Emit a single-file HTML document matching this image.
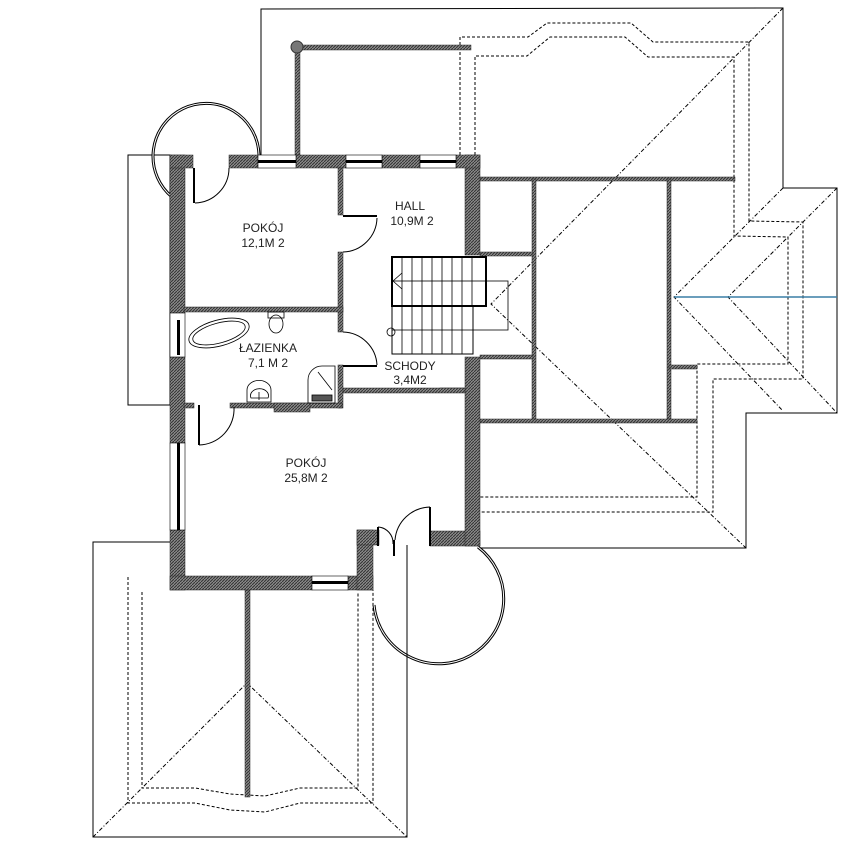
<!DOCTYPE html>
<html><head><meta charset="utf-8"><style>
html,body{margin:0;padding:0;background:#fff}
svg{display:block}
text{font-family:"Liberation Sans",sans-serif;font-size:12px;fill:#222;text-anchor:middle}
</style></head><body>
<svg width="861" height="846" viewBox="0 0 861 846" xmlns="http://www.w3.org/2000/svg">
<defs>
<pattern id="h" width="3" height="3" patternUnits="userSpaceOnUse">
<rect width="3" height="3" fill="#8a8a8a"/><path d="M0,3 L3,0" stroke="#333" stroke-width="1"/>
</pattern>
</defs>
<g fill="none" stroke="#000" stroke-width="1">
<polyline points="261,155 261,9 783,8 783,188 837,188 837,413 746,413 746,548 480,548"/>
<rect x="128" y="155" width="42" height="250"/>
<polyline points="170,542 93,542 93,837 407,837 407,545"/>
<g stroke-dasharray="3,2">
<polyline points="460,155 460,37 528,37 547,23 631,23 653,42 749,42 749,221 803,222 803,379 713,379 713,512 480,512"/>
<polyline points="475,155 475,56 527,56 550,37 625,37 648,57 734,57 734,236 788,237 788,364 697,364 697,497 480,497"/>
<polyline points="128,577 128,803 195,803 230,810 265,812 300,803 373,803 373,590"/>
<polyline points="142,592 142,788 195,788 230,794 265,796 300,788 358,788 358,592"/>
</g>
<g stroke-dasharray="4,2,1,2">
<polyline points="783,8 491,304 746,548"/>
<polyline points="783,188 674,297 783,411"/>
<polyline points="837,188 728,297 837,413"/>
<polyline points="93,837 247,683 407,837"/>
</g>
<line x1="674" y1="297" x2="837" y2="297" stroke="#3a7fa6" stroke-width="1.5"/>
<path d="M172,197 A53,53 0 1 1 259,155" stroke-width="3"/>
<path d="M172,197 A53,53 0 1 1 259,155" stroke="#fff" stroke-width="1"/>
<path d="M374,605 A65,65 0 1 0 478,547" stroke-width="3"/>
<path d="M374,605 A65,65 0 1 0 478,547" stroke="#fff" stroke-width="1"/>
<line x1="407" y1="546" x2="407" y2="670"/>
</g>
<rect x="295" y="47" width="5" height="108" fill="url(#h)" stroke="#333" stroke-width="0.5"/>
<rect x="297" y="45" width="174" height="5" fill="url(#h)" stroke="#333" stroke-width="0.5"/>
<circle cx="297" cy="47" r="6" fill="#777" stroke="#333"/>
<g fill="url(#h)" stroke="#222" stroke-width="0.5">
<rect x="245" y="590" width="5" height="207"/>
<rect x="480" y="177" width="255" height="4"/>
<rect x="532" y="179" width="4" height="243"/>
<rect x="667" y="179" width="4" height="243"/>
<rect x="480" y="419" width="217" height="4"/>
<rect x="669" y="365" width="28" height="4"/>
<rect x="480" y="252" width="53" height="4"/>
<rect x="480" y="355" width="53" height="4"/>
<rect x="440" y="388" width="25" height="4"/>
<rect x="170" y="155" width="15" height="158"/>
<rect x="170" y="357" width="15" height="86"/>
<rect x="170" y="530" width="15" height="60"/>
<rect x="170" y="576" width="142" height="14"/>
<rect x="348" y="576" width="25" height="14"/>
<rect x="357" y="530" width="16" height="60"/>
<rect x="357" y="530" width="22" height="15"/>
<rect x="430" y="531" width="50" height="15"/>
<rect x="465" y="155" width="15" height="100"/>
<rect x="465" y="357" width="15" height="189"/>
<rect x="170" y="155" width="23" height="13"/>
<rect x="229" y="155" width="29" height="13"/>
<rect x="296" y="155" width="50" height="13"/>
<rect x="382" y="155" width="38" height="13"/>
<rect x="456" y="155" width="24" height="13"/>
<rect x="338" y="168" width="5" height="47"/>
<rect x="338" y="252" width="5" height="80"/>
<rect x="184" y="307" width="159" height="5"/>
<rect x="338" y="365" width="5" height="43"/>
<rect x="343" y="388" width="122" height="5"/>
<rect x="230" y="403" width="112" height="5"/>
<rect x="274" y="403" width="36" height="9"/>
<rect x="184" y="403" width="10" height="5"/>
</g>
<g stroke="#000" fill="#fff">
<rect x="258" y="155" width="38" height="13" stroke-width="0.6"/>
<rect x="346" y="155" width="36" height="13" stroke-width="0.6"/>
<rect x="420" y="155" width="36" height="13" stroke-width="0.6"/>
<rect x="170" y="443" width="15" height="87" stroke-width="0.6"/>
<rect x="170" y="313" width="15" height="44" stroke-width="0.6"/>
<rect x="312" y="576" width="36" height="14" stroke-width="0.6"/>
</g>
<g fill="#000">
<rect x="258" y="160" width="38" height="3"/>
<rect x="346" y="160" width="36" height="3"/>
<rect x="420" y="160" width="36" height="3"/>
<rect x="177" y="443" width="3" height="87"/>
<rect x="177" y="320" width="3" height="35"/>
<rect x="312" y="581" width="36" height="3"/>
</g>
<g fill="none" stroke="#000" stroke-width="1">
<line x1="194" y1="168" x2="194" y2="203" stroke-width="2"/>
<path d="M195,203 A35,35 0 0 0 229,168"/>
<line x1="343" y1="216" x2="377" y2="216" stroke-width="2"/>
<path d="M377,218 A35,35 0 0 1 343,252"/>
<line x1="343" y1="366" x2="377" y2="366" stroke-width="2"/>
<path d="M343,332 A35,35 0 0 1 377,365"/>
<line x1="199" y1="405" x2="199" y2="445" stroke-width="2"/>
<path d="M199,445 A36,36 0 0 0 234,407"/>
<line x1="378" y1="527" x2="378" y2="546" stroke-width="2"/>
<path d="M378,527 A16,16 0 0 1 393,544"/>
<line x1="394" y1="540" x2="394" y2="556" stroke-width="2"/>
<line x1="430" y1="507" x2="430" y2="546" stroke-width="2"/>
<path d="M430,507 A36,36 0 0 0 395,540"/>
</g>
<g fill="none" stroke="#000">
<rect x="392" y="257" width="94" height="49" stroke-width="2"/>
<rect x="392" y="306" width="81" height="48" stroke-width="1"/>
<rect x="392" y="281" width="116" height="49" stroke-width="0.8"/>
<path d="M402,257V306M412,257V306M422,257V306M432,257V306M442,257V306M452,257V306M462,257V306M472,257V306M402,306V354M412,306V354M422,306V354M432,306V354M442,306V354M452,306V354M462,306V354" stroke-width="0.8"/>
<polyline points="402,273 393,281 402,289" stroke-width="0.8"/>
<circle cx="391" cy="332" r="4" stroke-width="0.8"/>
</g>
<g fill="none" stroke="#000" stroke-width="0.8">
<ellipse cx="219" cy="333" rx="31" ry="13" transform="rotate(-15 219 333)"/>
<ellipse cx="219" cy="333" rx="27" ry="10" transform="rotate(-15 219 333)"/>
<rect x="268" y="312" width="16" height="6"/>
<ellipse cx="276" cy="324" rx="7" ry="9"/>
<path d="M247,402 V390 A10,8 0 0 1 271,390 V402 Z"/>
<path d="M251,398 A9,7 0 1 1 268,398 Z"/>
<line x1="259" y1="392" x2="259" y2="400"/>
<path d="M308,403 V380 A14,14 0 0 1 322,366 H335 V403 Z"/>
<line x1="318" y1="372" x2="332" y2="390"/>
<rect x="312" y="395" width="20" height="6" fill="#555"/>
</g>
<text x="263" y="232">POKÓJ</text><text x="263" y="247">12,1M 2</text>
<text x="410" y="210">HALL</text><text x="412" y="225">10,9M 2</text>
<text x="268" y="352">ŁAZIENKA</text><text x="268" y="367">7,1 M 2</text>
<text x="410" y="370">SCHODY</text><text x="410" y="384">3,4M2</text>
<text x="306" y="467">POKÓJ</text><text x="306" y="482">25,8M 2</text>
</svg>
</body></html>
